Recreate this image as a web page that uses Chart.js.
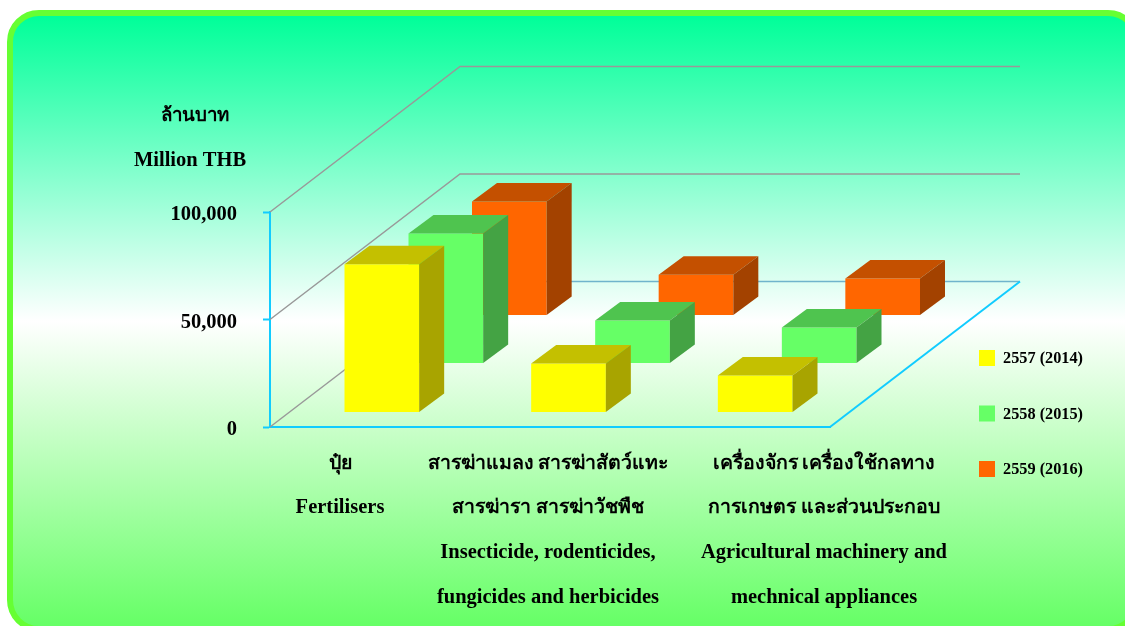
<!DOCTYPE html>
<html lang="en">
  <head>
    <meta charset="UTF-8" />
    <title>Agricultural inputs import value</title>
    <style>
      html, body { margin: 0; padding: 0; background: #fff; overflow: hidden; }
      .frame {
        position: absolute; left: 7px; top: 10px; width: 1133px; height: 622px;
        box-sizing: border-box; border: 6.5px solid #66ff33; border-radius: 32px;
        background: linear-gradient(#00ff99 0%, #ffffff 50%, #66ff66 100%);
      }
      canvas { position: absolute; left: 0; top: 0; }
    </style>
    <script src="https://cdn.jsdelivr.net/npm/chart.js"></script>
  </head>
  <body>
    <div class="frame"></div>
    <canvas id="chart" width="1125" height="626"></canvas>

    <script>
      const categories = [
        ["ปุ๋ย", "Fertilisers"],
        ["สารฆ่าแมลง สารฆ่าสัตว์แทะ", "สารฆ่ารา สารฆ่าวัชพืช", "Insecticide, rodenticides,", "fungicides and herbicides"],
        ["เครื่องจักร เครื่องใช้กลทาง", "การเกษตร และส่วนประกอบ", "Agricultural machinery and", "mechnical appliances"],
      ];
      const years = ["2557 (2014)", "2558 (2015)", "2559 (2016)"];
      const values2557 = [69000, 22800, 17200];
      const values2558 = [60500, 20000, 16700];
      const values2559 = [53000, 19000, 17200];
      const axisTitle = ["ล้านบาท", "Million THB"];

      const frontColors = ["#ffff00", "#66ff66", "#ff6600"];
      const topColors = ["#c4c000", "#4fc44f", "#c45000"];
      const sideColors = ["#a8a400", "#44a344", "#a34200"];

      const serif = '"Liberation Serif", "Times New Roman", serif';
      const CYAN = "#11ccff";
      const GREY = "#999999";

      // floor depth of the whole box, and how far each series sits back on it
      const BOX_DX = 190, BOX_DY = -145.5;
      const BAR_DX = 25, BAR_DY = -18.5;
      const seriesShift = [[18.5, -14.5], [82.5, -63.5], [146, -111.5]];
      const labelCentres = [340, 548, 824];
      const labelLines = [464, 508, 553, 598];

      function poly(ctx, color, pts) {
        ctx.fillStyle = color;
        ctx.beginPath();
        pts.forEach((p, i) => (i ? ctx.lineTo(p[0], p[1]) : ctx.moveTo(p[0], p[1])));
        ctx.closePath();
        ctx.fill();
      }

      function line(ctx, color, width, pts) {
        ctx.strokeStyle = color;
        ctx.lineWidth = width;
        ctx.beginPath();
        pts.forEach((p, i) => (i ? ctx.lineTo(p[0], p[1]) : ctx.moveTo(p[0], p[1])));
        ctx.stroke();
      }

      // Thai runs wider than the Latin text at the same size
      function labelFont(text) {
        return "bold " + (/[\u0E00-\u0E7F]/.test(text) ? 19.5 : 20.5) + "px " + serif;
      }

      const box3d = {
        id: "box3d",
        beforeDatasetsDraw(chart) {
          const { ctx, chartArea: a, scales } = chart;
          ctx.save();
          [50000, 100000].forEach((v) => {
            const y = scales.y.getPixelForValue(v);
            line(ctx, GREY, 1.5, [[a.left, y], [a.left + BOX_DX, y + BOX_DY], [a.right + BOX_DX, y + BOX_DY]]);
          });
          const y0 = scales.y.getPixelForValue(0);
          line(ctx, GREY, 1.5, [[a.left, y0], [a.left + BOX_DX, y0 + BOX_DY]]);
          line(ctx, "#70b4cc", 1.5, [[a.left + BOX_DX, y0 + BOX_DY], [a.right + BOX_DX, y0 + BOX_DY]]);
          line(ctx, CYAN, 2, [[a.right + BOX_DX, y0 + BOX_DY], [a.right, y0]]);
          ctx.restore();
        },
        beforeDatasetDraw(chart, args) {
          const s = seriesShift[args.index];
          chart.ctx.save();
          chart.ctx.translate(s[0], s[1]);
        },
        afterDatasetDraw(chart, args) {
          const ctx = chart.ctx;
          args.meta.data.forEach((bar) => {
            const { x, y, base, width } = bar.getProps(["x", "y", "base", "width"], true);
            const l = x - width / 2, r = x + width / 2;
            poly(ctx, topColors[args.index], [[l, y], [r, y], [r + BAR_DX, y + BAR_DY], [l + BAR_DX, y + BAR_DY]]);
            poly(ctx, sideColors[args.index], [[r, y], [r + BAR_DX, y + BAR_DY], [r + BAR_DX, base + BAR_DY], [r, base]]);
          });
          ctx.restore();
        },
        afterDraw(chart) {
          const ctx = chart.ctx;
          ctx.save();
          ctx.fillStyle = "#000";
          ctx.textBaseline = "middle";
          ctx.textAlign = "center";
          axisTitle.forEach((t, i) => {
            ctx.font = i ? labelFont(t) : "bold 18.7px " + serif;
            ctx.fillText(t, i ? 190 : 195, i ? 161 : 116);
          });
          categories.forEach((lines, c) => {
            lines.forEach((t, i) => {
              ctx.font = labelFont(t);
              ctx.fillText(t, labelCentres[c], labelLines[i]);
            });
          });

          // legend
          ctx.textAlign = "left";
          ctx.font = "bold 16.3px " + serif;
          chart.data.datasets.forEach((ds, i) => {
            const y = 350 + i * 55.5;
            ctx.fillStyle = ds.backgroundColor;
            ctx.fillRect(979, y, 16, 16);
            ctx.fillStyle = "#000";
            ctx.fillText(ds.label, 1003, y + 9);
          });
          ctx.restore();
        },
      };

      new Chart(document.getElementById("chart").getContext("2d"), {
        type: "bar",
        data: {
          labels: categories,
          datasets: [
            { label: years[0], data: values2557, backgroundColor: frontColors[0], order: 1 },
            { label: years[1], data: values2558, backgroundColor: frontColors[1], order: 2 },
            { label: years[2], data: values2559, backgroundColor: frontColors[2], order: 3 },
          ],
        },
        plugins: [box3d],
        options: {
          responsive: false,
          animation: false,
          layout: { padding: { top: 212, right: 295, left: 0, bottom: 0 } },
          plugins: { legend: { display: false }, tooltip: { enabled: false } },
          datasets: { bar: { grouped: false, categoryPercentage: 1, barPercentage: 0.4 } },
          scales: {
            x: {
              ticks: { display: false },
              grid: { display: false },
              border: { color: CYAN, width: 2 },
              afterFit(scale) { scale.height = 199; },
            },
            y: {
              min: 0,
              max: 100000,
              ticks: {
                stepSize: 50000,
                padding: 26,
                labelOffset: 3,
                color: "#000",
                font: { family: serif, size: 20.5, weight: "bold" },
              },
              grid: { drawOnChartArea: false, tickLength: 7, tickColor: CYAN, tickWidth: 2 },
              border: { color: CYAN, width: 2 },
              afterFit(scale) { scale.width = 270; },
            },
          },
        },
      });
    </script>
  </body>
</html>
